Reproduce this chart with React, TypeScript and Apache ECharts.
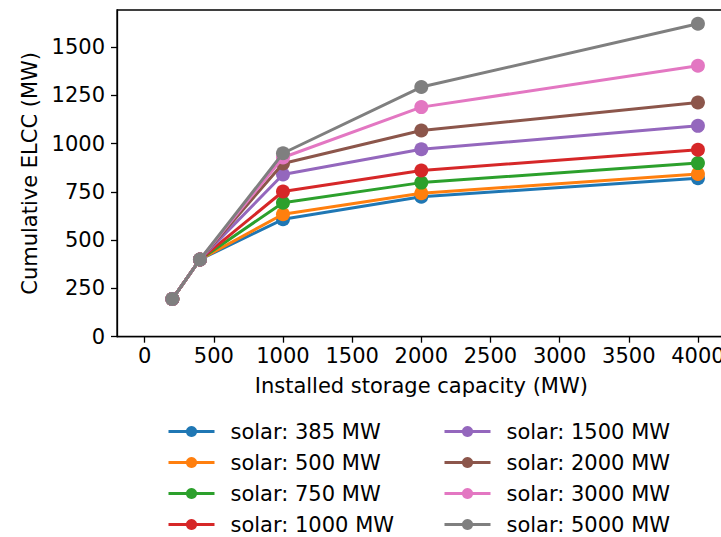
import React, { useEffect, useRef } from "react";
import * as echarts from "echarts";

const storageMW = [200, 400, 1000, 2000, 4000];
const solarLabels = [
  "solar: 385 MW",
  "solar: 500 MW",
  "solar: 750 MW",
  "solar: 1000 MW",
  "solar: 1500 MW",
  "solar: 2000 MW",
  "solar: 3000 MW",
  "solar: 5000 MW",
];
const solar385 = [195, 400, 608, 725, 821];
const solar500 = [195, 400, 634, 743, 843];
const solar750 = [195, 400, 694, 798, 899];
const solar1000 = [195, 400, 752, 861, 968];
const solar1500 = [195, 400, 840, 971, 1092];
const solar2000 = [195, 400, 897, 1068, 1213];
const solar3000 = [195, 400, 928, 1189, 1403];
const solar5000 = [195, 400, 950, 1293, 1621];
const xTicks = [0, 500, 1000, 1500, 2000, 2500, 3000, 3500, 4000];
const yTicks = [0, 250, 500, 750, 1000, 1250, 1500];

const allSeries = [solar385, solar500, solar750, solar1000, solar1500, solar2000, solar3000, solar5000];
const colors = ["#1f77b4", "#ff7f0e", "#2ca02c", "#d62728", "#9467bd", "#8c564b", "#e377c2", "#7f7f7f"];

const FONT = "DejaVu Sans";
const FS = 21;

export default function App() {
  const ref = useRef<HTMLDivElement>(null);
  useEffect(() => {
    if (!ref.current) return;
    const chart = echarts.init(ref.current, null, { renderer: "svg" });
    const legendBase = {
      orient: "vertical" as const,
      top: 421,
      height: 130,
      padding: 0,
      itemWidth: 46,
      itemHeight: 14,
      itemGap: 10,
      lineStyle: { width: 3 },
      textStyle: { fontFamily: FONT, fontSize: FS, color: "#000", lineHeight: 21, padding: [0, 0, 0, 11] },
    };
    const fmt = (v: number) => String(v);
    chart.setOption({
      animation: false,
      backgroundColor: "#fff",
      grid: {
        left: 117,
        top: 10,
        width: 608.6,
        height: 326.7,
        outerBoundsMode: "none",
        containLabel: false,
        show: true,
        borderColor: "#000",
        borderWidth: 1.3,
        backgroundColor: "transparent",
      },
      legend: [
        { ...legendBase, left: 167, data: solarLabels.slice(0, 4) },
        { ...legendBase, left: 443, data: solarLabels.slice(4, 8) },
      ],
      xAxis: {
        type: "value",
        min: -200,
        max: 4200,
        name: "Installed storage capacity (MW)",
        nameLocation: "middle",
        nameGap: 39,
        nameTextStyle: { fontFamily: FONT, fontSize: FS, color: "#000" },
        splitLine: { show: false },
        axisLine: { show: true, onZero: false, lineStyle: { color: "#000", width: 1.3 } },
        axisTick: { show: true, length: 6, lineStyle: { color: "#000", width: 1.3 }, customValues: xTicks },
        axisLabel: { fontFamily: FONT, fontSize: FS, color: "#000", margin: 9, customValues: xTicks, formatter: fmt },
      },
      yAxis: {
        type: "value",
        min: 0,
        max: 1692,
        name: "Cumulative ELCC (MW)",
        nameLocation: "middle",
        nameGap: 76,
        nameTextStyle: { fontFamily: FONT, fontSize: FS, color: "#000" },
        splitLine: { show: false },
        axisLine: { show: true, onZero: false, lineStyle: { color: "#000", width: 1.3 } },
        axisTick: { show: true, length: 6, lineStyle: { color: "#000", width: 1.3 }, customValues: yTicks },
        axisLabel: { fontFamily: FONT, fontSize: FS, color: "#000", margin: 12, customValues: yTicks, formatter: fmt },
      },
      series: allSeries.map((vals, i) => ({
        name: solarLabels[i],
        type: "line",
        data: storageMW.map((x, j) => [x, vals[j]]),
        symbol: "circle",
        symbolSize: 14,
        showSymbol: true,
        color: colors[i],
        lineStyle: { width: 3, color: colors[i] },
        itemStyle: { color: colors[i] },
        z: 2 + i,
      })),
    });
    return () => chart.dispose();
  }, []);
  return <div ref={ref} style={{ width: 721, height: 537, position: "absolute", left: 0, top: 0 }} />;
}
